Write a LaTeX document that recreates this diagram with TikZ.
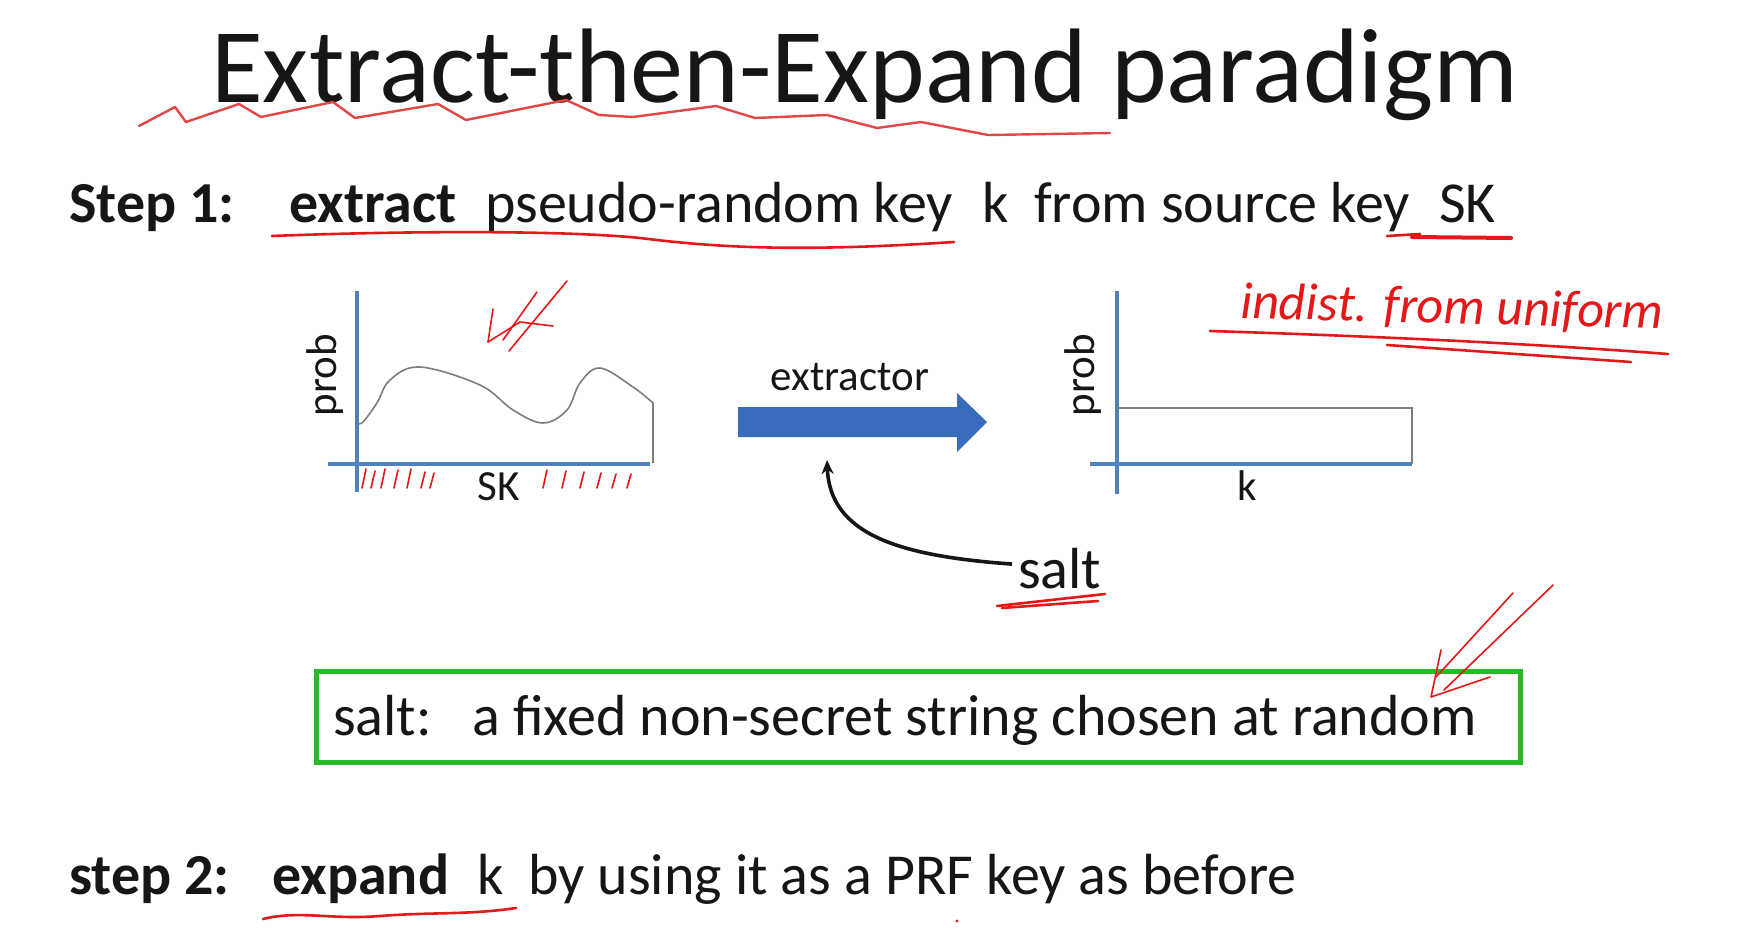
\documentclass[tikz,border=0pt]{standalone}
\usepackage{fontspec}
\setmainfont{Carlito}
\usetikzlibrary{arrows.meta}
\definecolor{ink}{RGB}{22,22,22}
\definecolor{axisblue}{RGB}{79,129,189}
\definecolor{arrowblue}{RGB}{58,108,188}
\definecolor{inkred}{RGB}{228,24,24}
\definecolor{softred}{RGB}{226,70,70}
\definecolor{boxgreen}{RGB}{40,185,40}
\definecolor{curvegray}{RGB}{125,125,125}
\begin{document}
\begin{tikzpicture}[x=1pt,y=-1pt,
  txt/.style={anchor=base west,inner sep=0pt,text=ink},
  ttl/.style={txt,font=\fontsize{106}{120}\selectfont},
  body/.style={txt,font=\fontsize{58}{66}\selectfont},
  bodyb/.style={txt,font=\fontsize{58}{66}\selectfont\bfseries},
  lbl/.style={inner sep=0pt,text=ink,font=\fontsize{43}{50}\selectfont},
  axisline/.style={draw=axisblue,line width=3.5pt},
  pen/.style={draw=inkred,line width=2.6pt,line cap=round,line join=round},
  thinpen/.style={draw=inkred,line width=1.6pt,line cap=round,line join=round},
]
\fill[white] (0,0) rectangle (1740,942);
\useasboundingbox (0,0) rectangle (1740,942);

% ---------- title ----------
\node[ttl] (title) at (211,102) {Extract-then-Expand paradigm};
\draw[draw=softred,line width=2.4pt,line join=round,line cap=round]
  (139,126) -- (175,107) -- (186,122) -- (239,104) -- (261,117) -- (333,102)
  -- (355,118) -- (438,104) -- (466,120) -- (566,100) -- (599,115) -- (633,117)
  -- (716,106) -- (755,118) -- (827,115) -- (877,128) -- (921,122) -- (988,135)
  -- (1110,133);

% ---------- step 1 ----------
\node[bodyb] (s1) at (69,222) {Step 1:};
\node[bodyb] (s1verb) at (289,222) {extract};
\node[body] (s1a) at (485,222) {pseudo-random key};
\node[body] (s1k) at (982,222) {k};
\node[body] (s1b) at (1034,222) {from source key};
\node[body] (s1sk) at (1439,222) {SK};
\draw[pen] (272,236) .. controls (400,231) and (560,230) .. (640,238)
  .. controls (720,248) and (800,252) .. (954,242);
\draw[pen] (1387,236) -- (1420,234);
\draw[pen,line width=4pt] (1412,237) -- (1511,238);

% ---------- source distribution ----------
\draw[axisline] (357,291) -- (357,492);
\draw[axisline] (328,464) -- (650,464);
\draw[curvegray,line width=1.6pt] plot[smooth,tension=0.6] coordinates {
  (358,423) (363,422) (377,403) (390,380) (420,367) (480,385) (513,410)
  (543,423) (567,410) (580,383) (600,368) (633,387) (653,403)} -- (653,463);
\node[lbl,rotate=90] (lprob) at (325,375) {prob};
\node[lbl,anchor=base] (lsk) at (499,500) {SK};
% hatching under the source axis
\foreach \hx/\hl in {362/19,371/17,381/19,394/18,407/19,421/16,430/15,543/18,562/17,580/16,597/15,612/14,627/14}
  \draw[thinpen] (\hx,488) -- (\hx+4,488-\hl);
% scribbled arrow above the curve
\draw[thinpen] (567,281) -- (509,351);
\draw[thinpen] (537,292) -- (503,340);
\draw[thinpen] (488,342) -- (493,309);
\draw[thinpen] (488,342) -- (520,322) -- (553,326);

% ---------- extractor ----------
\fill[arrowblue] (738,407) -- (957,407) -- (957,393) -- (987,422) -- (957,452)
  -- (957,437) -- (738,437) -- cycle;
\node[lbl,anchor=base] (extrlbl) at (850,390) {extractor};
\coordinate (saltin) at (827,460);
\node[txt,font=\fontsize{58}{66}\selectfont] (salt) at (1018,588) {salt};
\draw[ink,line width=3.6pt,-{Stealth[length=14pt,width=12pt]}]
  ([xshift=-6pt,yshift=4pt]salt.west) .. controls (900,556) and (830,535) .. (saltin);
\draw[pen] (997,606) -- (1105,594);
\draw[pen] (1002,608) -- (1098,601);

% ---------- uniform distribution ----------
\draw[axisline] (1117,291) -- (1117,494);
\draw[axisline] (1090,464) -- (1412,464);
\draw[curvegray,line width=1.6pt] (1117,408) -- (1412,408) -- (1412,464);
\node[lbl,rotate=90] (rprob) at (1083,375) {prob};
\node[lbl,anchor=base] (rk) at (1247,500) {k};
\node[anchor=base west,inner sep=0pt,text=inkred,rotate=-1.5,
  font=\fontsize{52}{60}\selectfont\itshape] (note) at (1240,318) {indist. from uniform};
\draw[pen] (1210,331) .. controls (1400,337) and (1550,345) .. (1668,354);
\draw[pen] (1387,345) -- (1631,362);

% ---------- salt definition ----------
\node[draw=boxgreen,line width=4.5pt,minimum width=1204,minimum height=91,
  inner sep=0pt,anchor=north west] (defbox) at (314,669) {};
\node[body] (defsalt) at (333,735) {salt:};
\node[body] (deftext) at (472,735) {a fixed non-secret string chosen at random};
\draw[thinpen] (1513,593) -- (1436,677);
\draw[thinpen] (1553,585) -- (1444,690);
\draw[thinpen] (1441,650) -- (1431,697) -- (1490,677);

% ---------- step 2 ----------
\node[bodyb] (s2) at (69,894) {step 2:};
\node[bodyb] (s2verb) at (272,894) {expand};
\node[body] (s2k) at (477,894) {k};
\node[body] (s2b) at (528,894) {by using it as a PRF key as before};
\draw[pen] (263,919) .. controls (300,910) and (330,920) .. (380,916)
  .. controls (430,912) and (470,915) .. (516,908);
\fill[inkred] (957,921) circle (1.6pt);
\end{tikzpicture}
\end{document}
